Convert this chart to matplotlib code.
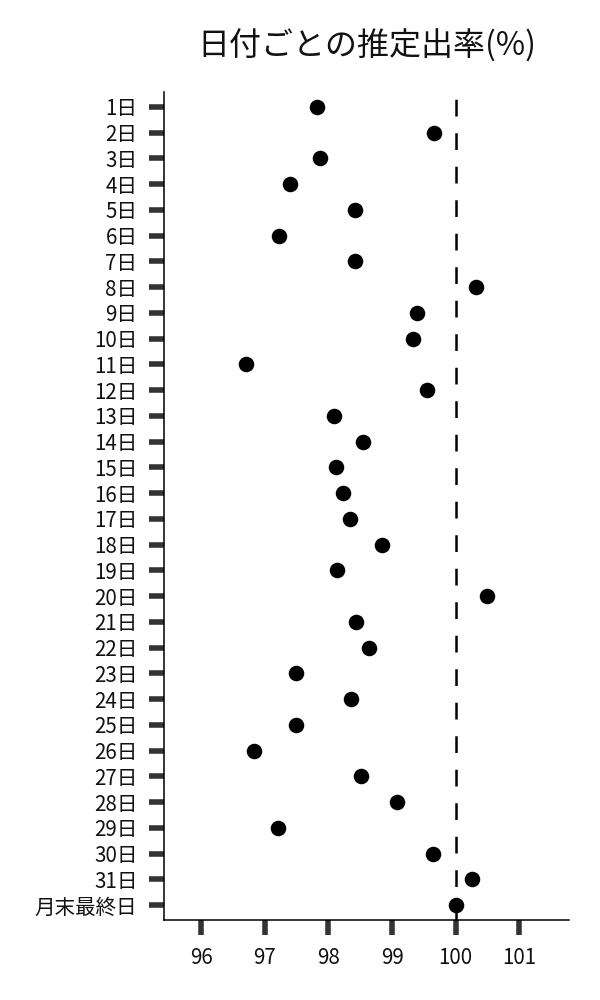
import matplotlib
matplotlib.use('Agg')
import matplotlib.pyplot as plt

plt.rcParams['font.family'] = ['Noto Sans CJK JP', 'DejaVu Sans']

days = [f'{i}日' for i in range(1, 32)] + ['月末最終日']
rates = [97.82, 99.66, 97.87, 97.40, 98.41, 97.23, 98.41, 100.32, 99.39, 99.33,
         96.71, 99.55, 98.08, 98.54, 98.12, 98.23, 98.34, 98.85, 98.13, 100.50,
         98.44, 98.64, 97.49, 98.36, 97.49, 96.83, 98.51, 99.08, 97.20, 99.65,
         100.26, 100.0]
x_ticks = [96, 97, 98, 99, 100, 101]
ref_value = 100

fig = plt.figure(figsize=(6, 10), dpi=100)
ax = fig.add_axes([0.274, 0.08, 0.674, 0.828])

ypos = list(range(len(days)))
ax.axvline(ref_value, color='black', lw=1.8, ls=(0, (6.7, 6.7)), zorder=1)
ax.scatter(rates, ypos, s=125, color='black', zorder=3, linewidths=0)

ax.set_yticks(ypos)
ax.set_yticklabels(days)
ax.set_xticks(x_ticks)
ax.set_xticklabels([str(v) for v in x_ticks])
ax.set_ylim(len(days) - 1 + 0.58, -0.58)
ax.set_xlim(95.42, 101.78)

for side in ['top', 'right']:
    ax.spines[side].set_visible(False)
for side in ['left', 'bottom']:
    ax.spines[side].set_linewidth(1.1)
    ax.spines[side].set_color('black')

ax.tick_params(axis='both', length=11, width=4, color='#333333',
               labelsize=14.8, pad=8.5, labelcolor='#111111')

ax.set_title('日付ごとの推定出率(%)', fontsize=23, pad=26, color='#111111')

fig.savefig('out.png', dpi=100)
